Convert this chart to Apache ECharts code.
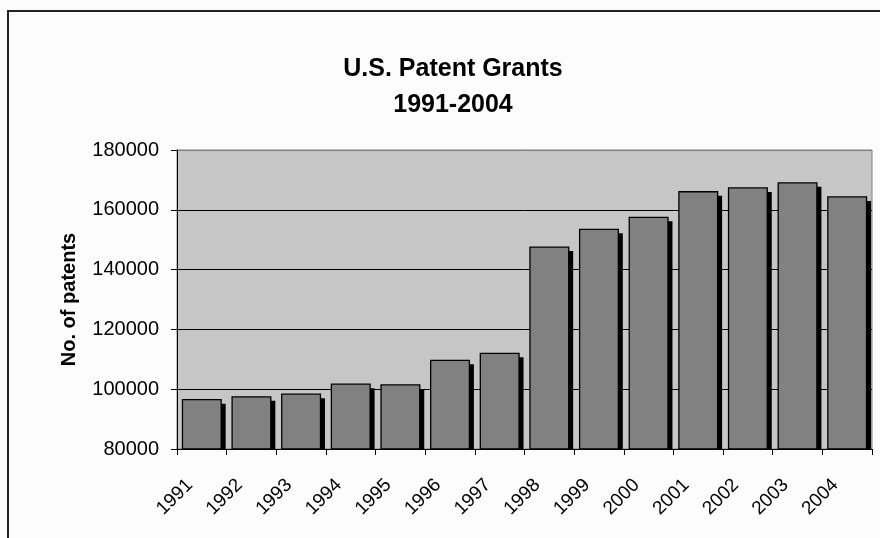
<!DOCTYPE html>
<html>
<head>
<meta charset="utf-8">
<title>U.S. Patent Grants 1991-2004</title>
<script src="https://cdn.jsdelivr.net/npm/echarts@6/dist/echarts.min.js"></script>
<style>
  html, body { margin: 0; padding: 0; background: #fcfcfc; }
  #chart { width: 880px; height: 538px; }
</style>
</head>
<body>
<div id="chart"></div>
<script>
// Utility patents granted per year
const years = ['1991', '1992', '1993', '1994', '1995', '1996', '1997',
               '1998', '1999', '2000', '2001', '2002', '2003', '2004'];
const grants = [96511, 97444, 98342, 101676, 101419, 109645, 111984,
                147517, 153485, 157494, 166035, 167331, 169023, 164290];
const yTicks = { min: 80000, max: 180000, step: 20000 };

const FONT = '"Liberation Sans", Arial, sans-serif';
const chart = echarts.init(document.getElementById('chart'), null, { renderer: 'canvas' });

// Each bar is a grey block with a hard black drop shadow to its lower right
function renderBar(params, api) {
  const idx = api.value(0);
  const val = api.value(1);
  const top = api.coord([idx, val]);
  const base = api.coord([idx, yTicks.min]);
  const w = api.size([1, 0])[0] * 0.78;
  const x = top[0] - w / 2;
  const dx = 4.5, dy = 4;
  return {
    type: 'group',
    children: [
      {
        type: 'rect',
        shape: { x: x + dx, y: top[1] + dy, width: w, height: base[1] - top[1] - dy },
        style: { fill: '#000' }
      },
      {
        type: 'rect',
        shape: { x: x, y: top[1], width: w, height: base[1] - top[1] },
        style: { fill: '#818181', stroke: '#000', lineWidth: 1.3 }
      }
    ]
  };
}

chart.setOption({
  backgroundColor: '#fcfcfc',
  animation: false,
  graphic: [
    {
      type: 'rect',
      silent: true,
      shape: { x: 8, y: 11, width: 900, height: 600 },
      style: { fill: 'none', stroke: '#222', lineWidth: 2 }
    },
    {
      type: 'text',
      silent: true,
      style: {
        text: 'U.S. Patent Grants', x: 453, y: 69,
        align: 'center', verticalAlign: 'middle',
        font: 'bold 25px ' + FONT, fill: '#000'
      }
    },
    {
      type: 'text',
      silent: true,
      style: {
        text: '1991-2004', x: 453, y: 105,
        align: 'center', verticalAlign: 'middle',
        font: 'bold 25px ' + FONT, fill: '#000'
      }
    }
  ],
  grid: {
    left: 177, top: 150, right: 8, bottom: 89,
    show: true, backgroundColor: '#c6c6c6',
    borderColor: '#808080', borderWidth: 1
  },
  xAxis: {
    type: 'category',
    data: years,
    boundaryGap: true,
    axisLine: { lineStyle: { color: '#000', width: 1 } },
    axisTick: { show: true, length: 6, lineStyle: { color: '#000' } },
    axisLabel: {
      rotate: 45, interval: 0, margin: 21, padding: [0, 17, 0, 0],
      color: '#000', fontSize: 19, fontFamily: FONT
    },
    splitLine: { show: false }
  },
  yAxis: {
    type: 'value',
    min: yTicks.min, max: yTicks.max, interval: yTicks.step,
    name: 'No. of patents',
    nameLocation: 'middle',
    nameGap: 98,
    nameRotate: 90,
    nameTextStyle: { color: '#000', fontSize: 20, fontWeight: 'bold', fontFamily: FONT },
    axisLine: { show: true, lineStyle: { color: '#000', width: 1 } },
    axisTick: { show: true, length: 6, lineStyle: { color: '#000' } },
    axisLabel: {
      margin: 18, color: '#000', fontSize: 20, fontFamily: FONT,
      formatter: v => String(v)
    },
    splitLine: {
      show: true,
      lineStyle: { color: ['#000', '#000', '#000', '#000', '#000', '#808080'], width: 1 }
    }
  },
  series: [{
    type: 'custom',
    renderItem: renderBar,
    encode: { x: 0, y: 1 },
    data: years.map((y, i) => [i, grants[i]])
  }]
});
</script>
</body>
</html>
